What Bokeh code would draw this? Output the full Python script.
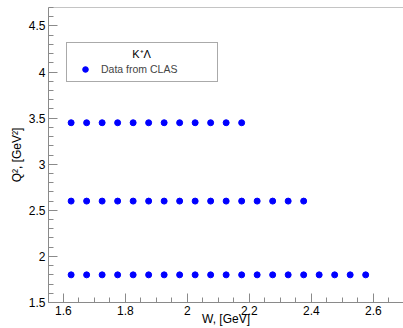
import numpy as np
from bokeh.plotting import figure
from bokeh.models import (FixedTicker, Legend, LegendItem, Label, Span, ColumnDataSource)
from bokeh.embed import file_html
from bokeh.resources import INLINE

# Data from CLAS: W [GeV] values at each Q^2 [GeV^2]
w_q345 = [1.625, 1.675, 1.725, 1.775, 1.825, 1.875, 1.925, 1.975, 2.025, 2.075, 2.125, 2.175]
w_q260 = [1.625, 1.675, 1.725, 1.775, 1.825, 1.875, 1.925, 1.975, 2.025, 2.075, 2.125, 2.175,
          2.225, 2.275, 2.325, 2.375]
w_q180 = [1.625, 1.675, 1.725, 1.775, 1.825, 1.875, 1.925, 1.975, 2.025, 2.075, 2.125, 2.175,
          2.225, 2.275, 2.325, 2.375, 2.425, 2.475, 2.525, 2.575]
q2_values = [3.45, 2.60, 1.80]

x_tick_values = [1.6, 1.8, 2.0, 2.2, 2.4, 2.6]
x_tick_labels = ["1.6", "1.8", "2", "2.2", "2.4", "2.6"]
y_tick_values = [1.5, 2.0, 2.5, 3.0, 3.5, 4.0, 4.5]
y_tick_labels = ["1.5", "2", "2.5", "3", "3.5", "4", "4.5"]

ws, qs = [], []
for wl, q in zip([w_q345, w_q260, w_q180], q2_values):
    ws += wl
    qs += [q] * len(wl)
src = ColumnDataSource(dict(w=ws, q2=qs))

FONT = "Liberation Sans"
GRAY = "#8a8a8a"

p = figure(width=403, height=328, x_range=(1.552, 2.697), y_range=(1.5, 4.7),
           output_backend="svg", toolbar_location=None,
           min_border_left=48, min_border_right=0, min_border_top=7, min_border_bottom=0)
p.outline_line_color = None
p.grid.visible = False
p.background_fill_color = "white"
p.border_fill_color = "white"

r = p.scatter("w", "q2", source=src, size=6, color="#0000ff", line_color="#0000ff")

x_minor = list(np.round(np.arange(1.55, 2.70, 0.05), 3))
y_minor = list(np.round(np.arange(1.5, 4.71, 0.1), 3))
p.xaxis.ticker = FixedTicker(ticks=x_tick_values, minor_ticks=x_minor)
p.yaxis.ticker = FixedTicker(ticks=y_tick_values, minor_ticks=y_minor)
p.xaxis.major_label_overrides = dict(zip(x_tick_values, x_tick_labels))
p.yaxis.major_label_overrides = dict(zip(y_tick_values, y_tick_labels))

for ax in (p.xaxis[0], p.yaxis[0]):
    ax.axis_line_color = GRAY
    ax.major_tick_line_color = GRAY
    ax.minor_tick_line_color = GRAY
    ax.major_tick_in = 9
    ax.major_tick_out = 0
    ax.minor_tick_in = 5
    ax.minor_tick_out = 0
    ax.major_label_text_font = FONT
    ax.major_label_text_font_size = "12px"
    ax.major_label_text_color = "black"
    ax.axis_label_text_font = FONT
    ax.axis_label_text_font_size = "12px"
    ax.axis_label_text_font_style = "normal"
    ax.axis_label_text_color = "black"
    ax.major_label_standoff = 3

p.yaxis.axis_label = "Q², [GeV²]"
p.yaxis.axis_label_standoff = 2
p.xaxis.axis_label = "W, [GeV]"
p.xaxis.axis_label_standoff = -6
p.xaxis.major_label_standoff = 3

top_line = Span(location=4.7, dimension="width", line_color=GRAY, line_width=1)
p.add_layout(top_line)

legend = Legend(items=[LegendItem(label="Data from CLAS", renderers=[r])],
                location=(18, 220), title=" ",
                title_text_font=FONT, title_text_font_size="10.5px",
                label_text_font=FONT, label_text_font_size="10.5px",
                border_line_color="#555555", border_line_width=1,
                background_fill_alpha=0.0, padding=5, spacing=0,
                glyph_width=26, glyph_height=14, label_standoff=3,
                label_width=111, label_height=14, title_standoff=2, margin=0)
p.add_layout(legend, "center")

header = Label(x=1.852, y=4.20, text="K⁺Λ", text_font=FONT, text_font_size="11px",
               text_align="center", text_baseline="middle", text_color="black")
p.add_layout(header)

open("out.html", "w").write(file_html(p, INLINE))
